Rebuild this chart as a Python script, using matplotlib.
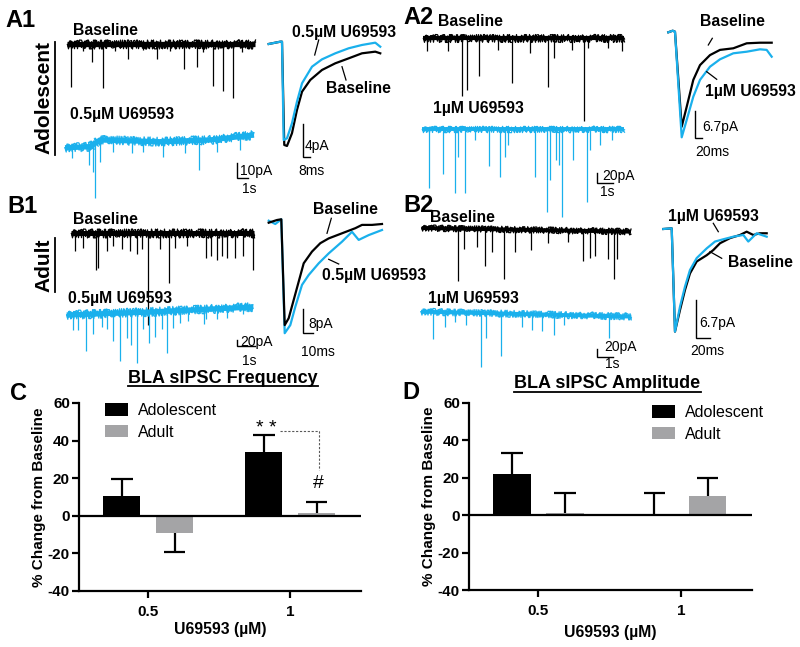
import numpy as np
import matplotlib
matplotlib.use('Agg')
import matplotlib.pyplot as plt
from matplotlib.transforms import IdentityTransform
from matplotlib.lines import Line2D

plt.rcParams['font.family'] = ['Liberation Sans', 'DejaVu Sans']
plt.rcParams['axes.unicode_minus'] = False

W, H = 800, 647
BLUE = '#1ab0ec'
GRAY = '#a4a4a6'

# ------------------------------------------------------------------ bar data
doses = ['0.5', '1']
freq_adolescent = [10.5, 34.0]
freq_adolescent_sem = [9.0, 9.0]
freq_adult = [-9.2, 1.5]
freq_adult_sem = [10.3, 6.0]
amp_adolescent = [22.0, 0.6]
amp_adolescent_sem = [11.5, 11.2]
amp_adult = [1.2, 10.5]
amp_adult_sem = [10.5, 9.5]
y_ticks = [-40, -20, 0, 20, 40, 60]

# ------------------------------------------------- raw traces (s, pA)
# A1 adolescent, baseline / 0.5 uM
a1_ctrl_t = [0.0, 17.1]
a1_ctrl_lvl = [0.0, 0.0]
a1_ctrl_ev_t = [0.34, 1.48, 2.30, 3.25, 4.36, 5.57, 6.91, 8.15, 9.36, 10.64, 11.79, 12.36, 13.25, 14.21, 15.06, 15.88]
a1_ctrl_ev_a = [28.7, 4.7, 12.0, 29.3, 4.7, 10.0, 4.0, 10.0, 4.7, 16.7, 15.3, 5.3, 28.0, 31.3, 36.0, 5.3]
a1_drug_t = [-0.18, 2.1, 3.0, 8.5, 13.0, 17.0]
a1_drug_lvl = [-4.5, -3.8, 0.7, -0.5, 0.7, 4.0]
a1_drug_ev_t = [0.43, 2.03, 2.39, 2.55, 3.0, 4.21, 5.88, 6.94, 8.75, 10.73, 12.03, 13.61, 15.73]
a1_drug_ev_a = [7.2, 12.1, 18.5, 36.7, 14.5, 7.5, 8.0, 6.9, 10.0, 8.1, 19.8, 8.5, 8.9]

# A2 adolescent, baseline / 1 uM
a2_ctrl_t = [0.0, 12.56]
a2_ctrl_lvl = [0.0, 0.0]
a2_ctrl_ev_t = [0.23, 1.58, 2.42, 2.73, 3.52, 4.71, 5.58, 6.69, 7.79, 8.21, 9.29, 10.06, 10.33, 11.58, 12.42]
a2_ctrl_ev_a = [26, 26, 116, 104, 76, 24, 90, 30, 98, 40, 24, 166, 20, 20, 26]
a2_drug_t = [-0.06, 12.56]
a2_drug_lvl = [0.0, 0.0]
a2_drug_ev_t = [0.38, 1.25, 2.0, 2.19, 2.63, 3.25, 4.13, 4.81, 5.13, 5.31, 7.0, 7.75, 7.94, 8.31, 8.5, 8.69, 9.38, 10.25, 10.44, 11.06, 11.81]
a2_drug_ev_a = [118, 90, 128, 56, 128, 22, 74, 96, 56, 32, 96, 166, 102, 62, 72, 176, 62, 146, 42, 32, 22]

# B1 adult, baseline / 0.5 uM
b1_ctrl_t = [0.0, 10.17]
b1_ctrl_lvl = [0.0, 0.0]
b1_ctrl_ev_t = [0.22, 0.68, 1.39, 1.52, 1.98, 2.35, 2.82, 3.28, 3.68, 3.93, 4.29, 4.94, 5.46, 5.78, 6.43, 7.5, 7.76, 8.09, 8.37, 8.65, 9.11, 9.57, 10.13]
b1_ctrl_ev_a = [60, 50, 123, 117, 60, 43, 53, 60, 70, 53, 307, 53, 167, 50, 43, 83, 77, 90, 77, 83, 83, 77, 123]
b1_drug_t = [-0.24, 4.39, 10.11]
b1_drug_lvl = [-5.7, 4.3, 21.0]
b1_drug_ev_t = [0.13, 0.41, 0.83, 1.24, 1.71, 1.98, 2.32, 2.72, 3.09, 3.32, 3.68, 4.02, 4.35, 4.67, 5.04, 5.35, 5.68, 6.06, 6.52, 7.37, 7.48, 8.09, 8.65, 9.57]
b1_drug_ev_a = [50, 50, 123, 67, 43, 53, 93, 160, 83, 107, 167, 57, 103, 83, 57, 140, 57, 43, 37, 50, 33, 33, 33, 23]

# B2 adult, baseline / 1 uM
b2_ctrl_t = [0.0, 13.08]
b2_ctrl_lvl = [5.0, -4.2]
b2_ctrl_ev_t = [2.29, 2.66, 3.44, 3.96, 4.41, 5.14, 5.83, 6.83, 7.91, 9.16, 10.1, 10.52, 10.83, 11.66, 12.04, 12.19]
b2_ctrl_ev_a = [130, 50, 45, 92, 57, 125, 55, 50, 32, 28, 75, 67, 62, 70, 120, 70]
b2_drug_t = [-0.04, 13.1]
b2_drug_lvl = [3.3, -9.0]
b2_drug_ev_t = [0.73, 1.46, 2.08, 2.75, 3.71, 4.0, 4.96, 6.29, 6.91, 7.5, 8.29, 8.91, 11.73]
b2_drug_ev_a = [67, 38, 25, 30, 135, 62, 105, 32, 40, 40, 50, 25, 55]

# ------------------------------------------ averaged sIPSCs (ms, pA)
a1_avg_ctrl_t = [0, 13.3, 15.2, 17.8, 20.9, 26.6, 32.3, 38.1, 47.5, 60.9, 76.1, 91.4, 106.6, 121.8, 127.5]
a1_avg_ctrl_i = [-0.12, 0.16, 0.16, -12.36, -12.48, -10.94, -8.12, -5.9, -4.48, -3.27, -2.46, -1.86, -1.25, -1.05, -1.25]
a1_avg_drug_t = [0, 13.3, 15.2, 17.1, 20.9, 26.6, 32.3, 38.1, 49.5, 60.9, 76.1, 91.4, 106.6, 121.8, 127.5]
a1_avg_drug_i = [-0.12, 0.16, 0.16, -11.76, -11.55, -9.73, -7.12, -4.88, -2.87, -1.98, -1.25, -0.64, -0.24, 0.04, -0.45]

a2_avg_ctrl_t = [0, 12.6, 19.1, 38.3, 52.6, 71.4, 90.6, 119.1, 147.7, 185.7, 224, 262, 295.4]
a2_avg_ctrl_i = [0, 0.4, 0.15, -23.6, -18.6, -11.9, -8.2, -5.7, -4.4, -4.0, -2.75, -2.6, -2.6]
a2_avg_drug_t = [0, 12.6, 19.1, 38.3, 52.6, 71.4, 90.6, 119.1, 147.7, 185.7, 224, 262, 281.1, 295.4]
a2_avg_drug_i = [0, 0.4, 0.15, -26.25, -21.9, -16.1, -11.9, -8.6, -6.75, -5.25, -4.85, -4.25, -4.4, -6.1]

b1_avg_ctrl_t = [0, 8.3, 12.6, 16, 20, 25, 30, 35, 43.3, 51.6, 60, 73.3, 86.6, 93.3, 103.3, 113.3]
b1_avg_ctrl_i = [-0.57, 0.33, 0.57, -34.7, -32.4, -26.3, -20.2, -14.1, -10.2, -7.4, -5.8, -4.1, -2.4, -1.3, -1.3, -1.0]
b1_avg_drug_t = [0, 6.6, 12.6, 16, 21.6, 26.6, 33.3, 40, 50, 60, 73.3, 83.3, 90, 100, 113.3]
b1_avg_drug_i = [0.1, -1.0, 0.57, -37.4, -34.7, -28.6, -21.3, -18.0, -14.1, -10.8, -6.9, -3.6, -6.3, -4.7, -3.0]

b2_avg_ctrl_t = [0, 12, 16.7, 23.9, 31, 38.1, 47.7, 62, 71.4, 81, 95.3, 109.6, 119.1, 128.6, 138.1, 147.7]
b2_avg_ctrl_i = [0, 0.12, -18.0, -14.2, -10.7, -7.8, -5.7, -4.6, -3.7, -2.5, -1.6, -1.05, -0.47, -1.05, -0.75, -0.75]
b2_avg_drug_t = [0, 12, 16.7, 23.9, 31, 38.1, 47.7, 62, 73.9, 85.7, 100, 114.3, 121.4, 133.4, 147.7]
b2_avg_drug_i = [0, 0.12, -18.0, -13.6, -10.1, -7.2, -5.1, -3.4, -2.2, -1.8, -1.35, -1.05, -2.2, -0.75, -1.35]

# ------------------------------------------------------------------ figure
fig = plt.figure(figsize=(W / 100, H / 100), dpi=100)
PX = IdentityTransform()


def ftext(x, y, s, size=11.5, weight='bold', ha='left', va='baseline', **kw):
    return fig.text(x, H - y, s, transform=PX, fontsize=size, fontweight=weight,
                    ha=ha, va=va, **kw)


def fline(xs, ys, lw=0.9, color='k', **kw):
    fig.add_artist(Line2D(xs, [H - y for y in ys], transform=PX, lw=lw, color=color, **kw))


def trace_axes(xref, yref, sx, sy):
    ax = fig.add_axes([0, 0, 1, 1])
    ax.set_xlim(-xref / sx, (W - xref) / sx)
    ax.set_ylim((yref - H) / sy, yref / sy)
    ax.set_axis_off()
    return ax


def draw_raw(ax, lt, lv, ev_t, ev_a, color, core, jag):
    ax.plot(lt, lv, color=color, lw=core, solid_capstyle='butt')
    for length in (1.0, 1.7):
        noisy, = ax.plot(lt, lv, color=color, lw=0.9)
        noisy.set_sketch_params(jag, length, 2.0)
    base = np.interp(ev_t, lt, lv)
    ax.vlines(ev_t, base - np.asarray(ev_a, float), base, color=color, lw=0.9)


def scale_bar(ax, t, i, dt, di, lw=1.0):
    ax.plot([t, t, t + dt], [i + di, i, i], color='k', lw=lw, solid_joinstyle='miter')


# ---- raw traces
ax = trace_axes(67, 44, 11, 1.5)
draw_raw(ax, a1_ctrl_t, a1_ctrl_lvl, a1_ctrl_ev_t, a1_ctrl_ev_a, 'k', 3.8, 4.5)
scale_bar(ax, 15.43, -89.5, 1, 10)
ax = trace_axes(67, 141, 11, 1.5)
draw_raw(ax, a1_drug_t, a1_drug_lvl, a1_drug_ev_t, a1_drug_ev_a, BLUE, 3.8, 4.5)

ax = trace_axes(423, 38.3, 16, 0.5)
draw_raw(ax, a2_ctrl_t, a2_ctrl_lvl, a2_ctrl_ev_t, a2_ctrl_ev_a, 'k', 3.0, 4.0)
scale_bar(ax, 10.86, -290, 1, 20)
ax = trace_axes(423, 129.3, 16, 0.5)
draw_raw(ax, a2_drug_t, a2_drug_lvl, a2_drug_ev_t, a2_drug_ev_a, BLUE, 2.8, 3.2)

ax = trace_axes(71, 233.3, 18, 0.3)
draw_raw(ax, b1_ctrl_t, b1_ctrl_lvl, b1_ctrl_ev_t, b1_ctrl_ev_a, 'k', 3.6, 4.5)
scale_bar(ax, 9.21, -375.7, 1, 20)
ax = trace_axes(71, 313.3, 18, 0.3)
draw_raw(ax, b1_drug_t, b1_drug_lvl, b1_drug_ev_t, b1_drug_ev_a, BLUE, 3.8, 4.5)

ax = trace_axes(421.7, 230, 16, 0.4)
draw_raw(ax, b2_ctrl_t, b2_ctrl_lvl, b2_ctrl_ev_t, b2_ctrl_ev_a, 'k', 2.8, 3.2)
scale_bar(ax, 10.93, -316.7, 1, 20)
ax = trace_axes(421.7, 313, 16, 0.4)
draw_raw(ax, b2_drug_t, b2_drug_lvl, b2_drug_ev_t, b2_drug_ev_a, BLUE, 2.8, 3.5)

# ---- averaged traces
ax = trace_axes(268.7, 43, 0.875, 8.25)
ax.plot(a1_avg_ctrl_t, a1_avg_ctrl_i, color='k', lw=1.6)
ax.plot(a1_avg_drug_t, a1_avg_drug_i, color=BLUE, lw=1.6)
scale_bar(ax, 38.9, -13.8, 8, 4)

ax = trace_axes(668.3, 32.3, 0.35, 4)
ax.plot(a2_avg_ctrl_t, a2_avg_ctrl_i, color='k', lw=1.6)
ax.plot(a2_avg_drug_t, a2_avg_drug_i, color=BLUE, lw=1.6)
scale_bar(ax, 76.3, -26.5, 20, 6.7)

ax = trace_axes(268.7, 221, 1.0, 3)
ax.plot(b1_avg_drug_t, b1_avg_drug_i, color=BLUE, lw=1.6)
ax.plot(b1_avg_ctrl_t, b1_avg_ctrl_i, color='k', lw=1.6)
scale_bar(ax, 34, -37.2, 10, 8)

ax = trace_axes(663.3, 229, 0.7, 5.7)
ax.plot(b2_avg_ctrl_t, b2_avg_ctrl_i, color='k', lw=1.6)
ax.plot(b2_avg_drug_t, b2_avg_drug_i, color=BLUE, lw=1.6)
scale_bar(ax, 46.7, -19.2, 20, 6.7)

# ---- trace labels
for s, x, y in [('A1', 5, 27), ('A2', 403, 24), ('B1', 7, 213), ('B2', 403, 211.5),
                ('C', 10, 400), ('D', 402, 399)]:
    ftext(x, y, s, size=17)

for s, x, y in [('Baseline', 73, 35), ('0.5\u00b5M U69593', 70, 119),
                ('0.5\u00b5M U69593', 292.5, 36.5), ('Baseline', 326, 93),
                ('Baseline', 438, 26), ('1\u00b5M U69593', 433, 112.5),
                ('Baseline', 700, 26.5), ('1\u00b5M U69593', 705, 96),
                ('Baseline', 73, 224), ('0.5\u00b5M U69593', 68, 303),
                ('Baseline', 313, 214.5), ('0.5\u00b5M U69593', 321.5, 280),
                ('Baseline', 430, 222.5), ('1\u00b5M U69593', 428, 302.5),
                ('1\u00b5M U69593', 668, 220.5), ('Baseline', 728, 267)]:
    ftext(x, y, s, size=11.3)

for s, x, y in [('10pA', 240, 175), ('1s', 242, 193), ('4pA', 305, 150), ('8ms', 298, 175),
                ('20pA', 602, 180), ('1s', 600, 196), ('6.7pA', 702, 131.5), ('20ms', 695, 156.5),
                ('20pA', 240, 346), ('1s', 242, 365), ('8pA', 308, 328), ('10ms', 301, 356.5),
                ('20pA', 604, 351.5), ('1s', 605, 368), ('6.7pA', 699, 327.5), ('20ms', 690, 355)]:
    ftext(x, y, s, size=10, weight='normal')

for xs, ys in [((318.7, 314.7), (40, 55)), ((342, 346), (66.7, 80)),
               ((712.3, 708.3), (38.3, 45)), ((706.7, 716.7), (71.7, 79.3)),
               ((331.3, 327), (218.3, 233.3)), ((328.7, 338.7), (259.3, 264)),
               ((713.3, 718.3), (223.3, 231.7)), ((710, 721.7), (251.7, 258.3))]:
    fline(xs, ys)

grp1 = ftext(44, 98, 'Adolescent', size=15, rotation=90, ha='center', va='center')
grp2 = ftext(44, 265, 'Adult', size=15, rotation=90, ha='center', va='center')
t1 = ftext(223, 383, 'BLA sIPSC Frequency', size=13, ha='center')
t2 = ftext(607.5, 388.5, 'BLA sIPSC Amplitude', size=13, ha='center')

# ---- bar charts
def bar_panel(rect, adol, adol_sem, adult, adult_sem, legend_anchor, xlabel_y):
    ax = fig.add_axes(rect)
    x = np.arange(len(doses))
    w = 0.264
    xa, xb = x - 0.185, x + 0.188
    ax.bar(xa, adol, w, color='black', label='Adolescent', zorder=3)
    ax.bar(xb, adult, w, color=GRAY, label='Adult', zorder=3)
    for xs, vals, sems in ((xa, adol, adol_sem), (xb, adult, adult_sem)):
        for xi, v, s in zip(xs, vals, sems):
            end = v + s if v >= 0 else v - s
            ax.vlines(xi, v, end, color='k', lw=1.6, zorder=2)
            ax.hlines(end, xi - 0.076, xi + 0.076, color='k', lw=1.6, zorder=2)
    ax.axhline(0, color='k', lw=1.6, zorder=4)
    ax.set_xlim(-0.486, 1.5)
    ax.set_ylim(-40, 60)
    for sp in ('top', 'right'):
        ax.spines[sp].set_visible(False)
    for sp in ('left', 'bottom'):
        ax.spines[sp].set_linewidth(1.6)
    ax.set_yticks(y_ticks)
    ax.set_xticks(x, doses)
    ax.tick_params(axis='both', width=1.6, length=5, labelsize=11)
    ax.tick_params(axis='y', pad=1.5)
    ax.tick_params(axis='x', pad=5)
    for lbl in ax.get_xticklabels() + ax.get_yticklabels():
        lbl.set_fontweight('bold')
    ax.set_ylabel('% Change from Baseline', fontsize=11, fontweight='bold')
    ax.yaxis.set_label_coords(-0.117, 0.5)
    ax.set_xlabel('U69593 (\u00b5M)', fontsize=11.3, fontweight='bold')
    ax.xaxis.set_label_coords(0.5, xlabel_y)
    ax.legend(loc='upper left', bbox_to_anchor=legend_anchor, bbox_transform=PX,
              frameon=False, fontsize=11.5, handlelength=1.44, handleheight=0.8,
              handletextpad=0.62, labelspacing=0.42, borderpad=0, borderaxespad=0)
    ax.patch.set_alpha(0)
    return ax


axC = bar_panel([79 / W, 1 - 591 / H, 282 / W, 188 / H], freq_adolescent, freq_adolescent_sem,
                freq_adult, freq_adult_sem, (105, H - 403), -0.165)
axC.text(0.83, 46.5, '* *', fontsize=14, ha='center', va='center')
axC.text(1.203, 17, '#', fontsize=14, ha='center', va='center')
axC.plot([0.927, 1.203, 1.203], [45.3, 45.3, 24.5], ls=(0, (2, 1.5)), color='0.35', lw=0.8)

axD = bar_panel([469 / W, 1 - 590 / H, 283 / W, 187 / H], amp_adolescent, amp_adolescent_sem,
                amp_adult, amp_adult_sem, (652, H - 405), -0.187)

# ---- underlines
fig.canvas.draw()
r = fig.canvas.get_renderer()
for t in (t1, t2):
    bb = t.get_window_extent(r)
    fig.add_artist(Line2D([bb.x0, bb.x1], [bb.y0 + 1, bb.y0 + 1], transform=PX, lw=1.3, color='k'))
for t in (grp1, grp2):
    bb = t.get_window_extent(r)
    fig.add_artist(Line2D([bb.x1 + 1, bb.x1 + 1], [bb.y0, bb.y1], transform=PX, lw=1.3, color='k'))

fig.savefig('out.png', dpi=100)
